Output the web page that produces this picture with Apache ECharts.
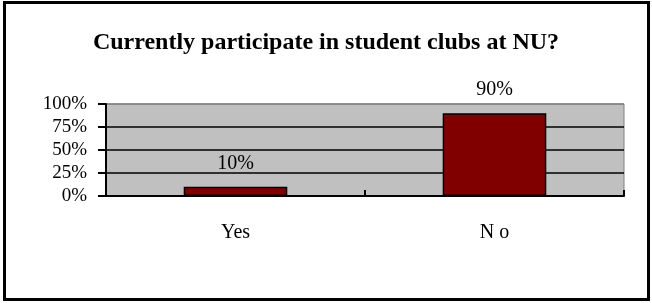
<!DOCTYPE html>
<html>
<head>
<meta charset="utf-8">
<script src="https://cdn.jsdelivr.net/npm/echarts@6/dist/echarts.min.js"></script>
<style>
html,body{margin:0;padding:0;background:#fff;}
#c{width:652px;height:303px;}
</style>
</head>
<body>
<div id="c"></div>
<script>
var titleText = 'Currently participate in student clubs at NU?';
var categories = ['Yes', 'N o'];
var values = [10, 90];
var yTicks = [0, 25, 50, 75, 100];

var chart = echarts.init(document.getElementById('c'), null, {renderer: 'canvas'});
var font = '"Liberation Serif", "Times New Roman", serif';
chart.setOption({
  animation: false,
  backgroundColor: '#fff',
  title: {
    text: titleText,
    left: 'center',
    top: 26,
    textStyle: {fontFamily: font, fontWeight: 'bold', fontSize: 24, color: '#000'}
  },
  graphic: [{
    type: 'rect',
    shape: {x: 4.5, y: 2.5, width: 644, height: 297},
    style: {fill: null, stroke: '#000', lineWidth: 3},
    silent: true
  }],
  grid: {
    left: 106, top: 104, right: 28, bottom: 107,
    show: true, backgroundColor: '#C0C0C0', borderColor: '#808080', borderWidth: 1
  },
  xAxis: {
    type: 'category',
    data: categories,
    axisLine: {lineStyle: {color: '#000', width: 2}},
    axisTick: {show: true, inside: true, length: 6, lineStyle: {color: '#000', width: 2}},
    axisLabel: {fontFamily: font, fontSize: 20, color: '#000', margin: 27}
  },
  yAxis: {
    type: 'value',
    min: yTicks[0], max: yTicks[yTicks.length - 1], interval: 25,
    axisLine: {show: true, lineStyle: {color: '#000', width: 2}},
    axisTick: {show: true, length: 8, lineStyle: {color: '#000', width: 2}},
    axisLabel: {fontFamily: font, fontSize: 19, color: '#000', margin: 19, formatter: '{value}%'},
    splitLine: {show: true, lineStyle: {color: ['#000', '#000', '#000', '#000', '#808080'], width: 1.5}}
  },
  series: [{
    type: 'bar',
    data: values,
    barWidth: '40%',
    itemStyle: {color: '#800000', borderColor: '#000', borderWidth: 1.5},
    label: {
      show: true, position: 'top', distance: 13,
      formatter: '{c}%',
      fontFamily: font, fontSize: 20, color: '#000'
    }
  }]
});
</script>
</body>
</html>
